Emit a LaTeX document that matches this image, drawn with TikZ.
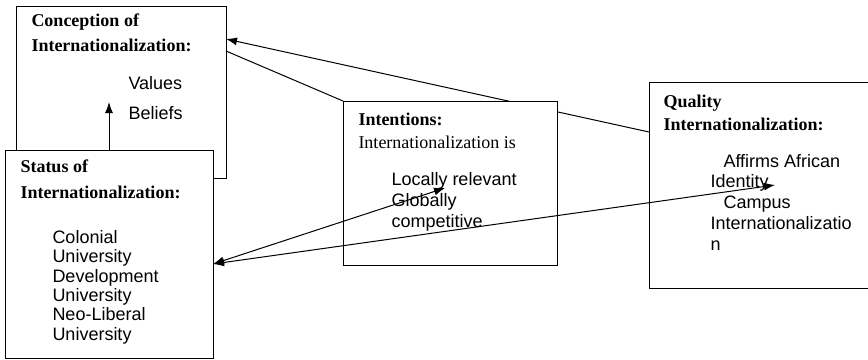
\documentclass[tikz,border=0pt]{standalone}
\usepackage{fontspec}
\setmainfont{Liberation Serif}
\newfontfamily\arialfont{Liberation Sans}
\usetikzlibrary{positioning,arrows.meta}
\tikzstyle{box} = [rectangle,draw,fill=white,inner sep=0pt,outer sep=0pt,anchor=north west]
\tikzstyle{head} = [inner sep=0pt,anchor=base west,align=left]
\tikzstyle{item} = [inner sep=0pt,anchor=base west,align=left]
\tikzstyle{tip} = [>={Latex[length=11pt,width=8pt]}]

\begin{document}
\begin{tikzpicture}[x=1pt,y=-1pt,line width=1pt,tip]
    	\useasboundingbox (0,0) rectangle (868,359);

    	\node[box,fill=none,minimum width=210pt,minimum height=172pt](conc) at (16,6) {};
    	\node[box,minimum width=240pt,minimum height=206pt](qual) at (649,82) {};
    	\draw[->] ([yshift=-50pt]qual.north west) -- ([yshift=-33pt]conc.north east);
    	\node[box,minimum width=208pt,minimum height=208pt](stat) at (5,150) {};
    	\node[box,minimum width=214pt,minimum height=164pt](intent) at (343,101) {};
    	\draw ([yshift=-45pt]conc.north east) -- (intent.north west);

    	% base of a multi-line node sits on its last line
    	\node[head,font=\bfseries\fontsize{18}{25}\selectfont](conchead) at (31,51) {Conception of\\Internationalization:};
    	\node[item,font=\arialfont\fontsize{18}{30}\selectfont](concitems) at (128,119) {Values\\Beliefs};
    	\node[head,font=\bfseries\fontsize{18}{26}\selectfont](stathead) at (20,198) {Status of\\Internationalization:};
    	\node[item,font=\arialfont\fontsize{18}{19.3}\selectfont](statitems) at (52,340) {Colonial\\University\\Development\\University\\Neo-Liberal\\University};
    	\node[head,font=\fontsize{18}{23}\selectfont](intenthead) at (358,148) {\textbf{Intentions:}\\Internationalization is};
    	\node[item,font=\arialfont\fontsize{18}{21}\selectfont](intentitems) at (391,227) {Locally relevant\\Globally\\competitive};
    	\node[head,font=\bfseries\fontsize{18}{23}\selectfont](qualhead) at (663,130) {Quality\\Internationalization:};
    	\node[item,font=\arialfont\fontsize{18}{20.7}\selectfont](qualitems) at (710,250) {\hspace*{13pt}Affirms African\\Identity\\\hspace*{13pt}Campus\\Internationalizatio\\n};

    	\coordinate (valtip) at (109,102);
    	\coordinate (loctip) at (445,188);
    	\coordinate (idtip) at (775,185);
    	\draw[->] (stat.north) -- (valtip);
    	\draw[<->] ([yshift=-10pt]stat.east) -- (loctip);
    	\draw[<->] ([yshift=-10pt]stat.east) -- (idtip);

\end{tikzpicture}
\end{document}
